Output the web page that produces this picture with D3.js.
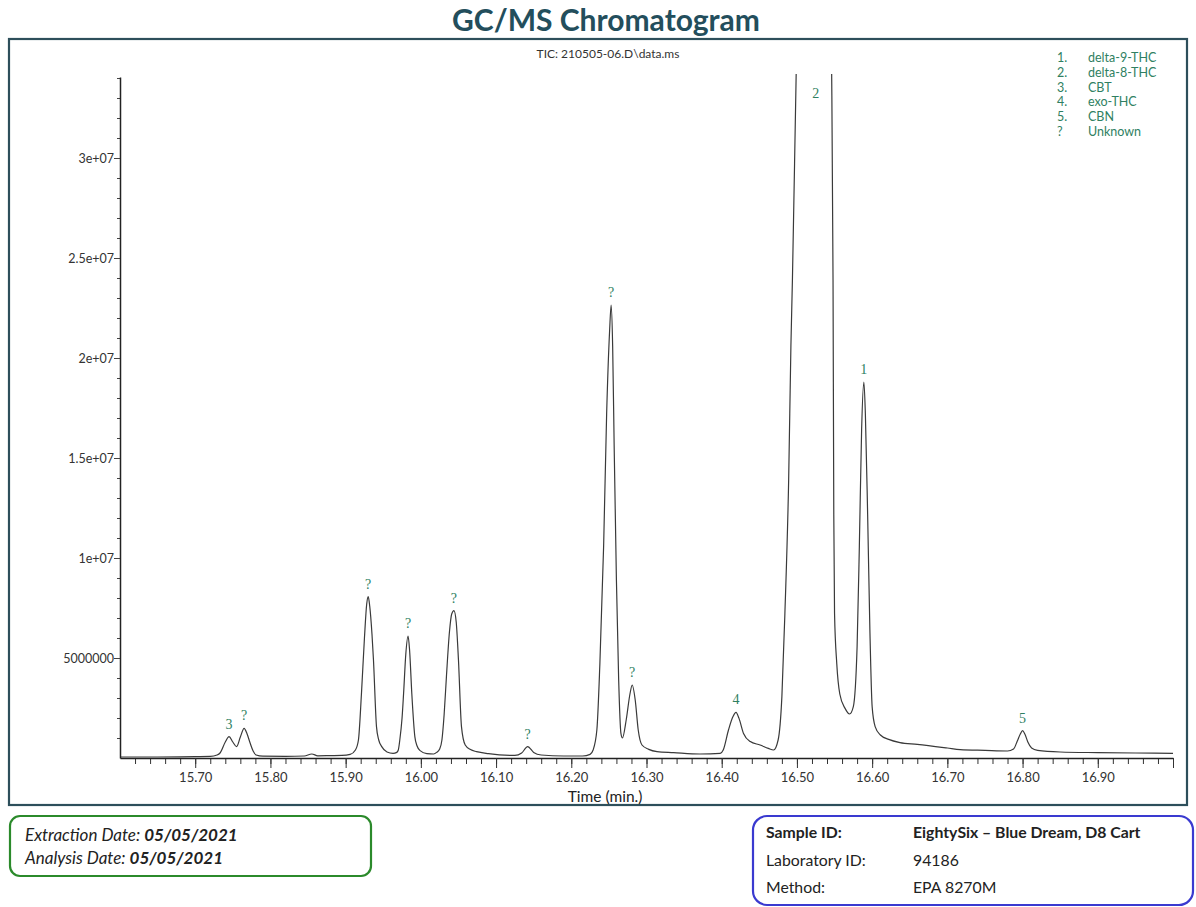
<!DOCTYPE html>
<html>
<head>
<meta charset="utf-8">
<script src="https://cdn.jsdelivr.net/npm/d3@7"></script>
<style>
  body { margin: 0; background: #fff; }
  svg { display: block; }
</style>
</head>
<body>
<svg id="chart" width="1196" height="907"></svg>
<script>
// ---- data ----
const times = [
  15.600, 15.650, 15.680, 15.700, 15.720, 15.729, 15.733, 15.740, 15.745, 15.750,
  15.755, 15.760, 15.765, 15.769, 15.773, 15.777, 15.781, 15.790, 15.820, 15.845,
  15.855, 15.863, 15.880, 15.895, 15.906, 15.913, 15.917, 15.921, 15.925, 15.928,
  15.930, 15.932, 15.935, 15.937, 15.941, 15.944, 15.948, 15.955, 15.963, 15.968,
  15.970, 15.972, 15.975, 15.977, 15.980, 15.983, 15.985, 15.988, 15.992, 15.995,
  15.999, 16.008, 16.017, 16.021, 16.025, 16.028, 16.031, 16.034, 16.038, 16.041,
  16.044, 16.047, 16.050, 16.054, 16.059, 16.066, 16.074, 16.090, 16.125, 16.134,
  16.142, 16.150, 16.160, 16.190, 16.215, 16.225, 16.229, 16.234, 16.238, 16.243,
  16.247, 16.251, 16.253, 16.255, 16.257, 16.260, 16.263, 16.266, 16.268, 16.273,
  16.278, 16.281, 16.285, 16.289, 16.294, 16.303, 16.314, 16.336, 16.371, 16.398,
  16.402, 16.409, 16.415, 16.419, 16.423, 16.429, 16.438, 16.451, 16.462, 16.469,
  16.475, 16.480, 16.484, 16.489, 16.492, 16.494, 16.499, 16.505, 16.515, 16.525,
  16.535, 16.542, 16.546, 16.548, 16.549, 16.550, 16.553, 16.557, 16.564, 16.570,
  16.575, 16.580, 16.583, 16.586, 16.589, 16.591, 16.594, 16.597, 16.600, 16.604,
  16.611, 16.622, 16.637, 16.660, 16.700, 16.717, 16.750, 16.780, 16.788, 16.793,
  16.797, 16.800, 16.803, 16.807, 16.812, 16.820, 16.850, 16.900, 16.950, 17.000
];
const abundance = [
  0.05e6, 0.05e6, 0.06e6, 0.07e6, 0.08e6, 0.15e6, 0.25e6, 0.80e6, 1.07e6, 0.80e6,
  0.57e6, 1.05e6, 1.48e6, 1.20e6, 0.75e6, 0.35e6, 0.15e6, 0.09e6, 0.08e6, 0.10e6,
  0.20e6, 0.11e6, 0.12e6, 0.13e6, 0.18e6, 0.40e6, 0.90e6, 3.20e6, 6.00e6, 7.70e6,
  8.07e6, 7.60e6, 6.20e6, 4.90e6, 1.57e6, 0.90e6, 0.57e6, 0.30e6, 0.23e6, 0.28e6,
  0.40e6, 0.90e6, 2.00e6, 3.20e6, 5.20e6, 6.10e6, 5.40e6, 3.20e6, 1.07e6, 0.60e6,
  0.37e6, 0.22e6, 0.20e6, 0.28e6, 0.45e6, 0.90e6, 2.20e6, 4.07e6, 6.30e6, 7.20e6,
  7.37e6, 6.80e6, 4.90e6, 1.57e6, 0.65e6, 0.42e6, 0.32e6, 0.22e6, 0.13e6, 0.25e6,
  0.57e6, 0.28e6, 0.15e6, 0.10e6, 0.10e6, 0.18e6, 0.40e6, 1.40e6, 4.70e6, 10.60e6,
  17.20e6, 21.40e6, 22.65e6, 20.60e6, 15.60e6, 8.90e6, 3.90e6, 1.23e6, 1.00e6, 1.90e6,
  3.20e6, 3.65e6, 2.90e6, 1.40e6, 0.65e6, 0.43e6, 0.32e6, 0.27e6, 0.20e6, 0.23e6,
  0.40e6, 1.40e6, 2.07e6, 2.28e6, 1.98e6, 1.23e6, 0.82e6, 0.65e6, 0.48e6, 0.40e6,
  0.90e6, 3.07e6, 7.23e6, 13.90e6, 20.60e6, 23.90e6, 34.20e6, 45.0e6, 55.0e6, 58.0e6,
  55.0e6, 45.0e6, 35.0e6, 23.90e6, 12.20e6, 7.25e6, 4.70e6, 3.20e6, 2.48e6, 2.20e6,
  2.57e6, 5.57e6, 10.60e6, 16.40e6, 18.80e6, 17.20e6, 12.20e6, 6.40e6, 2.57e6, 1.57e6,
  1.15e6, 0.93e6, 0.77e6, 0.68e6, 0.50e6, 0.42e6, 0.38e6, 0.35e6, 0.45e6, 0.85e6,
  1.20e6, 1.37e6, 1.20e6, 0.80e6, 0.50e6, 0.38e6, 0.30e6, 0.27e6, 0.25e6, 0.23e6
];
const peakTimes  = [15.745, 15.765, 15.930, 15.983, 16.044, 16.142, 16.253, 16.281, 16.419, 16.525, 16.589, 16.800];
const peakValues = [1.07e6, 1.48e6, 8.07e6, 6.10e6, 7.37e6, 0.57e6, 22.65e6, 3.65e6, 2.28e6, 58.0e6, 18.80e6, 1.37e6];
const peakLabels = ["3", "?", "?", "?", "?", "?", "?", "?", "4", "2", "1", "5"];

const xTickValues = [15.70, 15.80, 15.90, 16.00, 16.10, 16.20, 16.30, 16.40, 16.50, 16.60, 16.70, 16.80, 16.90];
const xTickLabels = ["15.70", "15.80", "15.90", "16.00", "16.10", "16.20", "16.30", "16.40", "16.50", "16.60", "16.70", "16.80", "16.90"];
const yTickValues = [5e6, 10e6, 15e6, 20e6, 25e6, 30e6];
const yTickLabels = ["5000000", "1e+07", "1.5e+07", "2e+07", "2.5e+07", "3e+07"];

const legendNums  = ["1.", "2.", "3.", "4.", "5.", "?"];
const legendNames = ["delta-9-THC", "delta-8-THC", "CBT", "exo-THC", "CBN", "Unknown"];

// ---- drawing ----
const svg = d3.select("#chart");
const FONT = "Lato, 'Open Sans', sans-serif";
const green = "#2f7f62";

const x = d3.scaleLinear().domain([15.60, 17.00]).range([120, 1173]);
const y = d3.scaleLinear().domain([0, 3.405e7]).range([758, 77]);

// title
svg.append("text").attr("x", 606).attr("y", 31).attr("text-anchor", "middle")
  .attr("font-family", FONT).attr("font-weight", "bold").attr("font-size", 30)
  .attr("fill", "#234e5c").text("GC/MS Chromatogram");

// frame
svg.append("rect").attr("x", 9).attr("y", 39).attr("width", 1178).attr("height", 766)
  .attr("fill", "none").attr("stroke", "#2d4f5b").attr("stroke-width", 2.2);

// subtitle
svg.append("text").attr("x", 608).attr("y", 58).attr("text-anchor", "middle")
  .attr("font-family", FONT).attr("font-size", 12).attr("fill", "#333")
  .text("TIC: 210505-06.D\\data.ms");

// legend
const lg = svg.append("g").attr("font-family", FONT).attr("font-size", 12.5).attr("fill", green);
legendNums.forEach((n, i) => {
  lg.append("text").attr("x", 1057).attr("y", 62 + i * 14.8).text(n);
  lg.append("text").attr("x", 1088).attr("y", 62 + i * 14.8).text(legendNames[i]);
});

// clip
svg.append("defs").append("clipPath").attr("id", "plotclip")
  .append("rect").attr("x", 120).attr("y", 74).attr("width", 1053).attr("height", 690);

// signal line
const pts = times.map((t, i) => [t, abundance[i]]);
const line = d3.line().x(d => x(d[0])).y(d => y(d[1])).curve(d3.curveMonotoneX);
svg.append("path").datum(pts).attr("d", line).attr("clip-path", "url(#plotclip)")
  .attr("fill", "none").attr("stroke", "#3a3a3a").attr("stroke-width", 1.2);

// x axis
const xMinor = d3.range(15.62, 17.001, 0.02).map(v => +v.toFixed(2));
const xAxisMinor = d3.axisBottom(x).tickValues(xMinor).tickSize(6).tickFormat("");
const gxm = svg.append("g").attr("transform", "translate(0,758)").call(xAxisMinor);
gxm.select(".domain").remove();
gxm.selectAll("line").attr("stroke", "#333");
const xAxis = d3.axisBottom(x).tickValues(xTickValues.concat([17.00])).tickSize(10).tickSizeOuter(0)
  .tickFormat((d) => { const i = xTickValues.indexOf(d); return i >= 0 ? xTickLabels[i] : ""; });
const gx = svg.append("g").attr("transform", "translate(0,758)").call(xAxis);
gx.select(".domain").attr("stroke", "#222").attr("stroke-width", 1.5);
gx.selectAll("line").attr("stroke", "#333");
gx.selectAll("text").attr("font-family", FONT).attr("font-size", 13).attr("fill", "#333").attr("dy", "0.9em").attr("y", 12);

svg.append("text").attr("x", 605).attr("y", 802).attr("text-anchor", "middle")
  .attr("font-family", FONT).attr("font-size", 15.5).attr("fill", "#222").text("Time (min.)");

// y axis
const yMinor = d3.range(1e6, 3.45e7, 1e6);
const gym = svg.append("g").attr("transform", "translate(120,0)")
  .call(d3.axisLeft(y).tickValues(yMinor).tickSize(3).tickFormat(""));
gym.select(".domain").remove();
gym.selectAll("line").attr("stroke", "#444");
const yAxis = d3.axisLeft(y).tickValues(yTickValues).tickSize(6).tickSizeOuter(0)
  .tickFormat((d) => yTickLabels[yTickValues.indexOf(d)]);
const gy = svg.append("g").attr("transform", "translate(120,0)").call(yAxis);
gy.select(".domain").attr("stroke", "#222").attr("stroke-width", 1.5);
gy.selectAll("line").attr("stroke", "#444");
gy.selectAll("text").attr("font-family", FONT).attr("font-size", 12.5).attr("fill", "#333").attr("x", -6);

// peak labels
const pl = svg.append("g").attr("font-family", "'Liberation Serif', serif").attr("font-size", 14)
  .attr("fill", green).attr("text-anchor", "middle");
peakTimes.forEach((t, i) => {
  pl.append("text").attr("x", x(t)).attr("y", Math.max(y(peakValues[i]) - 8, 98)).text(peakLabels[i]);
});

// bottom-left box
svg.append("rect").attr("x", 10).attr("y", 816).attr("width", 361).attr("height", 60).attr("rx", 10)
  .attr("fill", "none").attr("stroke", "#2b8a2b").attr("stroke-width", 2.2);
const t1 = svg.append("text").attr("x", 25).attr("y", 841).attr("font-family", FONT)
  .attr("font-size", 17).attr("font-style", "italic").attr("fill", "#222");
t1.append("tspan").text("Extraction Date: ");
t1.append("tspan").attr("font-weight", "bold").text("05/05/2021");
const t2 = svg.append("text").attr("x", 25).attr("y", 864).attr("font-family", FONT)
  .attr("font-size", 17).attr("font-style", "italic").attr("fill", "#222");
t2.append("tspan").text("Analysis Date: ");
t2.append("tspan").attr("font-weight", "bold").text("05/05/2021");

// bottom-right box
svg.append("rect").attr("x", 753).attr("y", 816).attr("width", 440).attr("height", 89).attr("rx", 14)
  .attr("fill", "none").attr("stroke", "#3a3ad0").attr("stroke-width", 2.2);
const info = [["Sample ID:", "EightySix \u2013 Blue Dream, D8 Cart", true],
              ["Laboratory ID:", "94186", false],
              ["Method:", "EPA 8270M", false]];
info.forEach((r, i) => {
  const yy = 838 + i * 27.5;
  svg.append("text").attr("x", 766).attr("y", yy).attr("font-family", FONT).attr("font-size", 15.8)
    .attr("font-weight", r[2] ? "bold" : "normal").attr("fill", "#222").text(r[0]);
  svg.append("text").attr("x", 913).attr("y", yy).attr("font-family", FONT).attr("font-size", 15.8)
    .attr("font-weight", r[2] ? "bold" : "normal").attr("fill", "#222").text(r[1]);
});
</script>
</body>
</html>
